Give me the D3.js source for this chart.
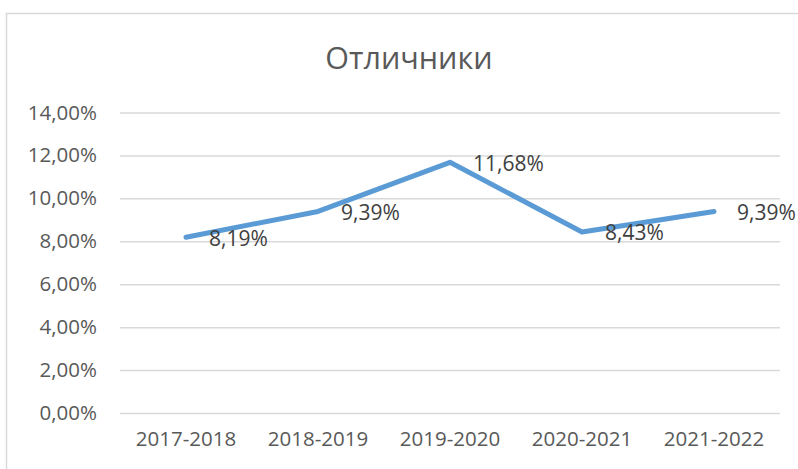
<!DOCTYPE html>
<html>
<head>
<meta charset="utf-8">
<script src="https://cdn.jsdelivr.net/npm/d3@7"></script>
<style>
  body { margin: 0; background: #fff; }
  svg text { font-family: "Open Sans", "Liberation Sans", sans-serif; }
  .axis .domain { display: none; }
</style>
</head>
<body>
<svg id="chart" width="798" height="469"></svg>
<script>
// data
let years = ["2017-2018", "2018-2019", "2019-2020", "2020-2021", "2021-2022"];
let excellent = [0.0819, 0.0939, 0.1168, 0.0843, 0.0939];
let yTicks = [0, 0.02, 0.04, 0.06, 0.08, 0.10, 0.12, 0.14];

let chart = d3.select("#chart");
let ru = d3.formatLocale({decimal: ",", thousands: " ", grouping: [3], currency: ["", ""]});
let pct = ru.format(".2%");

// chart area border
chart.append("rect")
    .attr("x", 6.5)
    .attr("y", 13.5)
    .attr("width", 820)
    .attr("height", 500)
    .attr("fill", "none")
    .attr("stroke", "#d9d9d9")
    .attr("stroke-width", 1.5);

// title
chart.append("text")
    .text("Отличники")
    .attr("x", 409)
    .attr("y", 69)
    .style("font-size", "30.5px")
    .style("text-anchor", "middle")
    .style("fill", "#595959");

let x = d3.scaleBand()
    .domain(years)
    .range([120, 780]);

let y = d3.scaleLinear()
    .domain([0, 0.14])
    .range([413, 112.5]);

// y axis with gridlines
let yAxis = d3.axisLeft(y)
    .tickValues(yTicks)
    .tickSize(-660)
    .tickPadding(23)
    .tickFormat(pct);
let yAxisGroup = chart.append("g")
    .attr("class", "axis")
    .attr("transform", "translate(120,0)")
    .call(yAxis);
yAxisGroup.selectAll("line")
    .attr("stroke", "#d9d9d9")
    .attr("stroke-width", 1.5);
yAxisGroup.selectAll("text")
    .style("font-size", "20.5px")
    .style("fill", "#595959");

// x axis labels
let xAxis = d3.axisBottom(x)
    .tickSize(0)
    .tickPadding(18);
let xAxisGroup = chart.append("g")
    .attr("class", "axis")
    .attr("transform", "translate(0,413)")
    .call(xAxis);
xAxisGroup.selectAll("text")
    .style("font-size", "20.5px")
    .style("fill", "#595959");

// line
let cx = function(d, i) { return x(years[i]) + x.bandwidth() / 2; };
chart.append("path")
    .datum(excellent)
    .attr("fill", "none")
    .attr("stroke", "#5b9bd5")
    .attr("stroke-width", 5)
    .attr("stroke-linecap", "round")
    .attr("stroke-linejoin", "round")
    .attr("d", d3.line()
        .x(cx)
        .y(function(d) { return y(d); })
    );

// data labels
chart.selectAll("text.label")
    .data(excellent)
    .enter()
    .append("text")
    .attr("class", "label")
    .attr("x", function(d, i) { return cx(d, i) + 23; })
    .attr("y", function(d) { return y(d) + 1; })
    .attr("dy", "0.35em")
    .style("font-size", "21px")
    .style("fill", "#404040")
    .text(function(d) { return pct(d); });
</script>
</body>
</html>
